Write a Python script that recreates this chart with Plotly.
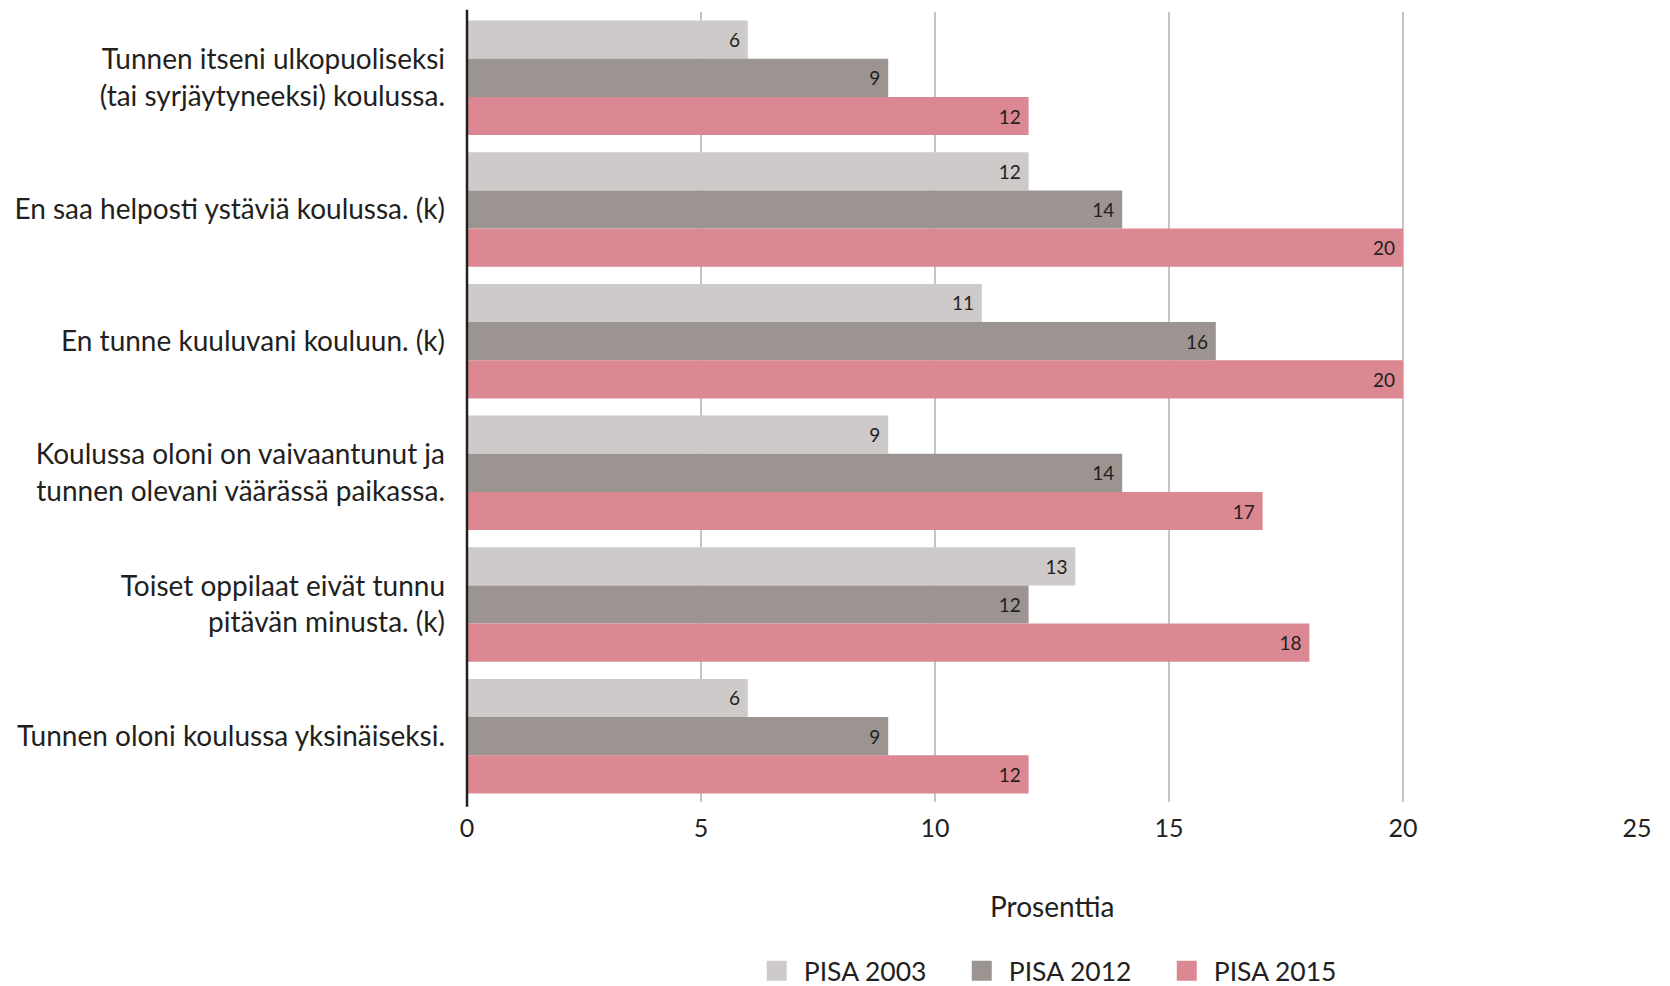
import plotly.graph_objects as go

categories = [
    "Tunnen itseni ulkopuoliseksi<br>(tai syrjäytyneeksi) koulussa.",
    "En saa helposti ystäviä koulussa. (k)",
    "En tunne kuuluvani kouluun. (k)",
    "Koulussa oloni on vaivaantunut ja<br>tunnen olevani väärässä paikassa.",
    "Toiset oppilaat eivät tunnu<br>pitävän minusta. (k)",
    "Tunnen oloni koulussa yksinäiseksi.",
]
series_names = ["PISA 2003", "PISA 2012", "PISA 2015"]
pisa_2003 = [6, 12, 11, 9, 13, 6]
pisa_2012 = [9, 14, 16, 14, 12, 9]
pisa_2015 = [12, 20, 20, 17, 18, 12]
colors = ["#cdcac9", "#9b9491", "#db8893"]
x_title = "Prosenttia"

FONT = "Lato"
TXT = "#231f20"

fig = go.Figure()
for name, vals, col in zip(series_names, [pisa_2003, pisa_2012, pisa_2015], colors):
    fig.add_trace(go.Bar(
        y=categories, x=vals, orientation="h", name=name,
        marker=dict(color=col, line=dict(width=0)),
        text=[f"{v}\u00a0" for v in vals],
        textposition="inside", insidetextanchor="end", textangle=0,
        insidetextfont=dict(family=FONT, size=19, color=TXT),
        showlegend=False, hoverinfo="x+name",
    ))
    fig.add_trace(go.Scatter(
        x=[None], y=[None], mode="markers", name=name,
        marker=dict(symbol="square", size=16, color=col,
                    line=dict(color=col, width=4)),
        showlegend=True,
    ))

fig.update_layout(
    width=1670, height=986,
    paper_bgcolor="white", plot_bgcolor="white",
    margin=dict(l=459, r=41, t=4, b=192, autoexpand=False),
    barmode="group", bargap=0.13, bargroupgap=0,
    font=dict(family=FONT, size=28, color=TXT),
    legend=dict(
        orientation="h", x=0.5045, xanchor="center", y=-0.214, yanchor="middle",
        font=dict(family=FONT, size=26.5, color=TXT),
        entrywidth=146, itemwidth=44, itemsizing="trace",
    ),
    xaxis=dict(
        range=[0, 25], dtick=5, tick0=0,
        showgrid=True, gridcolor="#c4c4c4", gridwidth=1.5,
        zeroline=False, showline=False,
        ticks="", ticklabelstandoff=9,
        tickfont=dict(family=FONT, size=25, color=TXT),
    ),
    yaxis=dict(
        autorange="reversed", showgrid=False, zeroline=False, showline=False,
        ticks="", ticklabelstandoff=21,
        tickfont=dict(family=FONT, size=28, color=TXT),
    ),
    annotations=[dict(text=x_title, xref="paper", yref="paper",
                      x=0.5, y=-0.1316, xanchor="center", yanchor="middle",
                      showarrow=False,
                      font=dict(family=FONT, size=28, color=TXT))],
    shapes=[dict(type="line", xref="paper", yref="paper",
                 x0=0, x1=0, y0=-0.006, y1=1.003,
                 line=dict(color=TXT, width=2.5))],
)

fig.write_html("out.html")
